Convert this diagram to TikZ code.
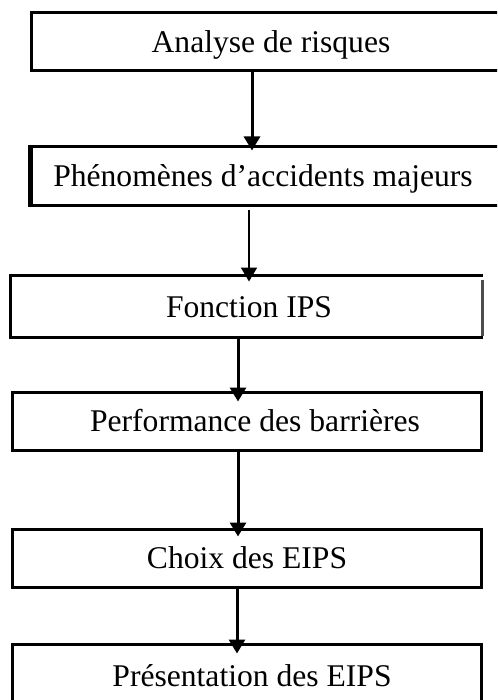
\documentclass[tikz,border=0pt]{standalone}
\usepackage{fontspec}
\setmainfont{Liberation Serif}
\usetikzlibrary{arrows.meta}

\tikzset{
  stepbox/.style={draw=black, line width=3pt, rectangle, inner sep=0pt},
  steptext/.style={anchor=base, inner sep=0pt, font=\fontsize{31.6}{38}\selectfont},
  flow/.style={draw=black, line width=3pt, -{Triangle[width=16pt,length=14pt]}},
}

\begin{document}
\begin{tikzpicture}[x=1pt, y=-1pt]
  \useasboundingbox (0,0) rectangle (497,700);
  \clip (0,0) rectangle (497,700);

  % step boxes
  \node[stepbox, minimum width=509pt, minimum height=58pt] (b1) at (285.5,42) {};
  \node[stepbox, minimum width=509pt, minimum height=59pt] (b2) at (285.5,176.5) {};
  \node[stepbox, draw=none, minimum width=469pt, minimum height=59pt] (b3) at (246.5,306.5) {};
  \node[stepbox, minimum width=469pt, minimum height=58pt] (b4) at (246.5,421) {};
  \node[stepbox, minimum width=469pt, minimum height=58pt] (b5) at (246.5,558) {};
  \node[stepbox, minimum width=469pt, minimum height=120pt] (b6) at (246.5,704) {};

  % heavier left edge of the second box
  \draw[line width=4.5pt] ([xshift=0.5pt]b2.north west) -- ([xshift=0.5pt]b2.south west);

  % third box: three black sides and a lighter right side
  \draw[line width=3pt] (b3.north east) -- (b3.north west) -- (b3.south west) -- (b3.south east);
  \draw[line width=2.5pt, black!70] ([yshift=-4pt]b3.north east) -- ([yshift=2pt]b3.south east);

  % labels
  \node[steptext] (t1) at (271,53)  {Analyse de risques};
  \node[steptext] (t2) at (263,187) {Phénomènes d’accidents majeurs};
  \node[steptext] (t3) at (249,317) {Fonction IPS};
  \node[steptext] (t4) at (255,431) {Performance des barrières};
  \node[steptext] (t5) at (247,568) {Choix des EIPS};
  \node[steptext] (t6) at (252,686) {Présentation des EIPS};

  % connectors
  \draw[flow] ([xshift=-33.5pt]b1.south) -- ([xshift=-33.5pt,yshift=-5pt]b2.north);
  \draw[flow, line width=2pt] ([xshift=-36.5pt,yshift=-3pt]b2.south) -- ([xshift=2.5pt,yshift=-6pt]b3.north);
  \draw[flow] ([xshift=-8.5pt]b3.south) -- ([xshift=-8.5pt,yshift=-11pt]b4.north);
  \draw[flow] ([xshift=-8.5pt]b4.south) -- ([xshift=-8.5pt,yshift=-9pt]b5.north);
  \draw[flow] ([xshift=-9.5pt]b5.south) -- ([xshift=-9.5pt,yshift=-11pt]b6.north);
\end{tikzpicture}
\end{document}
